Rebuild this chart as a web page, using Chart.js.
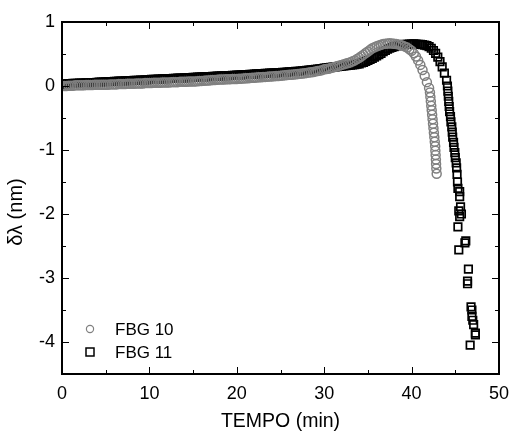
<!DOCTYPE html>
<html>
<head>
<meta charset="utf-8">
<script src="https://cdn.jsdelivr.net/npm/chart.js@4"></script>
<style>
  body { margin: 0; background: #fff; }
  #wrap { width: 512px; height: 432px; }
</style>
</head>
<body>
<div id="wrap"><canvas id="myChart" width="512" height="432"></canvas></div>
<script>
// sampling times shared by both gratings up to 42 min
const tempo = [
  0,0.25,0.5,0.75,1,1.25,1.5,1.75,2,2.25,2.5,2.75,3,3.25,3.5,3.75,4,4.25,4.5,4.75,5,
  5.25,5.5,5.75,6,6.25,6.5,6.75,7,7.25,7.5,7.75,8,8.25,8.5,8.75,9,9.25,9.5,9.75,10,
  10.25,10.5,10.75,11,11.25,11.5,11.75,12,12.25,12.5,12.75,13,13.25,13.5,13.75,14,14.25,14.5,14.75,15,
  15.25,15.5,15.75,16,16.25,16.5,16.75,17,17.25,17.5,17.75,18,18.25,18.5,18.75,19,19.25,19.5,19.75,20,
  20.25,20.5,20.75,21,21.25,21.5,21.75,22,22.25,22.5,22.75,23,23.25,23.5,23.75,24,24.25,24.5,24.75,25,
  25.25,25.5,25.75,26,26.25,26.5,26.75,27,27.25,27.5,27.75,28,28.25,28.5,28.75,29,29.25,29.5,29.75,30,
  30.25,30.5,30.75,31,31.25,31.5,31.75,32,32.25,32.5,32.75,33,33.25,33.5,33.75,34,
  34.25,34.5,34.75,35,35.25,35.5,35.75,36,36.25,36.5,36.75,37,37.25,37.5,37.75,38,
  38.25,38.5,38.75,39,39.25,39.5,39.75,40,40.25,40.5,40.75,41,41.25,41.5,41.75,42
];

// FBG 10 (grey circles)
const fbg10Y = [
  0,0,0,0.005,0.005,0.005,0.01,0.01,0.01,0.01,0.01,0.015,0.015,0.015,0.015,0.02,0.02,0.02,0.02,0.02,0.02,
  0.02,0.025,0.025,0.025,0.025,0.03,0.03,0.03,0.03,0.035,0.035,0.035,0.035,0.04,0.04,0.04,0.04,0.045,0.045,0.045,
  0.045,0.05,0.05,0.05,0.05,0.055,0.055,0.055,0.055,0.06,0.06,0.06,0.06,0.065,0.065,0.065,0.065,0.07,0.07,0.07,
  0.072,0.075,0.077,0.08,0.082,0.085,0.087,0.09,0.092,0.095,0.097,0.1,0.1,0.102,0.105,0.105,0.107,0.108,0.109,0.11,
  0.112,0.115,0.117,0.12,0.122,0.125,0.127,0.13,0.132,0.135,0.137,0.14,0.142,0.145,0.147,0.15,0.152,0.155,0.157,0.16,
  0.163,0.167,0.17,0.175,0.177,0.18,0.183,0.187,0.19,0.195,0.2,0.205,0.21,0.215,0.22,0.228,0.235,0.24,0.248,0.26,
  0.265,0.27,0.28,0.29,0.3,0.31,0.32,0.33,0.34,0.35,0.36,0.37,0.385,0.4,0.42,0.44,
  0.465,0.49,0.515,0.54,0.565,0.59,0.605,0.62,0.633,0.645,0.655,0.66,0.665,0.667,0.665,0.66,
  0.655,0.65,0.64,0.63,0.615,0.6,0.575,0.55,0.51,0.46,0.4,0.33,0.25,0.16,0.06,-0.03
];
const fbg10TailX = [42.1,42.15,42.2,42.25,42.3,42.35,42.4,42.45,42.5,42.55,42.6,42.65,42.7,42.72,42.75,42.78,42.8,42.83,42.87];
const fbg10TailY = [-0.1,-0.17,-0.24,-0.31,-0.38,-0.45,-0.52,-0.59,-0.66,-0.73,-0.8,-0.87,-0.94,-1.01,-1.08,-1.15,-1.22,-1.29,-1.37];

// FBG 11 (black squares)
const fbg11Y = [
  0.03,0.03,0.035,0.035,0.037,0.04,0.04,0.042,0.045,0.045,0.047,0.05,0.05,0.052,0.055,0.055,0.057,0.06,0.06,0.062,0.065,
  0.067,0.068,0.07,0.072,0.073,0.075,0.077,0.078,0.08,0.082,0.083,0.085,0.087,0.088,0.09,0.092,0.093,0.095,0.097,0.1,
  0.102,0.103,0.105,0.107,0.108,0.11,0.112,0.113,0.115,0.117,0.118,0.12,0.122,0.123,0.125,0.127,0.128,0.13,0.132,0.135,
  0.137,0.138,0.14,0.142,0.143,0.145,0.147,0.148,0.15,0.152,0.153,0.155,0.157,0.158,0.16,0.162,0.163,0.165,0.167,0.17,
  0.172,0.174,0.176,0.178,0.18,0.182,0.184,0.186,0.188,0.19,0.192,0.194,0.196,0.198,0.2,0.202,0.204,0.206,0.208,0.21,
  0.213,0.215,0.218,0.22,0.223,0.225,0.228,0.23,0.233,0.236,0.24,0.245,0.248,0.251,0.255,0.259,0.263,0.268,0.273,0.28,
  0.283,0.287,0.29,0.294,0.298,0.302,0.306,0.31,0.313,0.317,0.32,0.325,0.33,0.335,0.34,0.347,
  0.36,0.37,0.385,0.4,0.415,0.43,0.45,0.47,0.49,0.51,0.535,0.555,0.575,0.59,0.605,0.615,
  0.625,0.635,0.64,0.645,0.65,0.652,0.655,0.655,0.657,0.655,0.652,0.65,0.645,0.64,0.63,0.615
];
const fbg11TailX = [
  42.25,42.5,42.75,43,43.25,43.5,43.75,44,
  44.1,44.15,44.2,44.25,44.3,44.35,44.45,44.5,44.6,44.65,44.7,44.8,44.85,44.95,45,45.1,45.15,45.2,45.25,45.3,
  45.5,45.5,45.6,45.4,45.5,45.7,45.3,46.1,46.2,45.4,46.5,46.4,46.4,46.8,46.9,46.9,47,47.1,47.3,47.3,46.7
];
const fbg11TailY = [
  0.59,0.555,0.51,0.45,0.38,0.3,0.2,0.09,
  0,-0.08,-0.16,-0.24,-0.32,-0.4,-0.48,-0.56,-0.64,-0.72,-0.8,-0.88,-0.96,-1.04,-1.12,-1.2,-1.28,-1.38,-1.5,-1.6,
  -1.65,-1.73,-1.89,-1.95,-2.04,-2,-2.2,-2.45,-2.42,-2.56,-2.86,-3.05,-3.09,-3.45,-3.5,-3.6,-3.66,-3.73,-3.86,-3.89,-4.05
];

const seriesNames = ['FBG 10', 'FBG 11'];
const xTicks = [0, 10, 20, 30, 40, 50];
const xMinor = [5, 15, 25, 35, 45];
const yTicks = [-4, -3, -2, -1, 0, 1];
const yMinor = [-3.5, -2.5, -1.5, -0.5, 0.5];
const yTitle = 'δλ (nm)';

const FONT = "'Liberation Sans', Arial, sans-serif";
const GREY = '#808080';

function toPoints(xs, ys) {
  return xs.map((v, i) => ({x: v, y: ys[i]}));
}

// inward ticks on all four sides, frame, y title and the legend inside the plot
const frameTicks = {
  id: 'frameTicks',
  afterDraw(chart) {
    const {ctx, chartArea: a, scales: {x, y}} = chart;
    ctx.save();
    ctx.strokeStyle = '#000';
    ctx.lineWidth = 1;
    ctx.beginPath();
    const xt = (v, len) => {
      const px = Math.round(x.getPixelForValue(v)) + 0.5;
      ctx.moveTo(px, a.bottom); ctx.lineTo(px, a.bottom - len);
      ctx.moveTo(px, a.top); ctx.lineTo(px, a.top + len);
    };
    const yt = (v, len) => {
      const py = Math.round(y.getPixelForValue(v)) + 0.5;
      ctx.moveTo(a.left, py); ctx.lineTo(a.left + len, py);
      ctx.moveTo(a.right, py); ctx.lineTo(a.right - len, py);
    };
    xTicks.forEach(v => xt(v, 7));
    xMinor.forEach(v => xt(v, 4));
    yTicks.forEach(v => yt(v, 7));
    yMinor.forEach(v => yt(v, 4));
    ctx.stroke();
    ctx.lineWidth = 2;
    ctx.strokeRect(a.left, a.top, a.right - a.left, a.bottom - a.top);

    // y axis title
    ctx.fillStyle = '#000';
    ctx.font = '20px ' + FONT;
    ctx.textAlign = 'center';
    ctx.textBaseline = 'middle';
    ctx.save();
    ctx.translate(16, 212);
    ctx.rotate(-Math.PI / 2);
    ctx.fillText(yTitle, 0, 0);
    ctx.restore();

    // legend
    const ds = chart.data.datasets;
    const lx = a.left + 28;
    const ly = [a.bottom - 45, a.bottom - 22];
    ctx.lineWidth = 1.2;
    ctx.strokeStyle = ds[0].borderColor;
    ctx.beginPath();
    ctx.arc(lx, ly[0], 3.6, 0, Math.PI * 2);
    ctx.stroke();
    ctx.lineWidth = 1.5;
    ctx.strokeStyle = ds[1].borderColor;
    ctx.strokeRect(lx - 4, ly[1] - 4, 8, 8);
    ctx.font = '17px ' + FONT;
    ctx.textAlign = 'left';
    ds.forEach((d, i) => ctx.fillText(d.label, a.left + 53, ly[i] + 1));
    ctx.restore();
  }
};

function scatterChart() {
  const ctx = document.getElementById('myChart');
  new Chart(ctx, {
    type: 'scatter',
    data: {
      datasets: [{
        label: seriesNames[0],
        data: toPoints(tempo, fbg10Y).concat(toPoints(fbg10TailX, fbg10TailY)),
        pointStyle: 'circle',
        pointRadius: 4.5,
        borderColor: GREY,
        backgroundColor: 'rgba(0,0,0,0)',
        borderWidth: 1.5
      }, {
        label: seriesNames[1],
        data: toPoints(tempo, fbg11Y).concat(toPoints(fbg11TailX, fbg11TailY)),
        pointStyle: 'rect',
        pointRadius: 5.3,
        borderColor: '#000',
        backgroundColor: 'rgba(0,0,0,0)',
        borderWidth: 1.7
      }]
    },
    options: {
      responsive: false,
      animation: false,
      layout: { padding: { top: 22, right: 13, left: 0, bottom: 0 } },
      scales: {
        x: {
          type: 'linear',
          min: 0, max: 50,
          afterBuildTicks: s => { s.ticks = xTicks.map(v => ({value: v})); },
          afterFit: s => { s.height = 58; s.paddingLeft = 0; s.paddingRight = 0; },
          grid: { display: false, drawTicks: false },
          border: { display: false },
          ticks: { color: '#000', padding: 9.5, font: { family: FONT, size: 18 }, callback: v => String(v) },
          title: { display: true, text: 'TEMPO (min)', color: '#000', font: { family: FONT, size: 19.5, lineHeight: 1 }, padding: { top: 0, bottom: 1 } }
        },
        y: {
          type: 'linear',
          min: -4.5, max: 1,
          afterBuildTicks: s => { s.ticks = yTicks.map(v => ({value: v})); },
          afterFit: s => { s.width = 62; s.paddingTop = 0; s.paddingBottom = 0; },
          grid: { display: false, drawTicks: false },
          border: { display: false },
          ticks: { color: '#000', padding: 7, font: { family: FONT, size: 18 }, callback: v => String(v) },
          title: { display: false }
        }
      },
      plugins: {
        legend: { display: false },
        tooltip: { enabled: false }
      }
    },
    plugins: [frameTicks]
  });
}

window.addEventListener('DOMContentLoaded', function () {
  scatterChart();
});
</script>
</body>
</html>
